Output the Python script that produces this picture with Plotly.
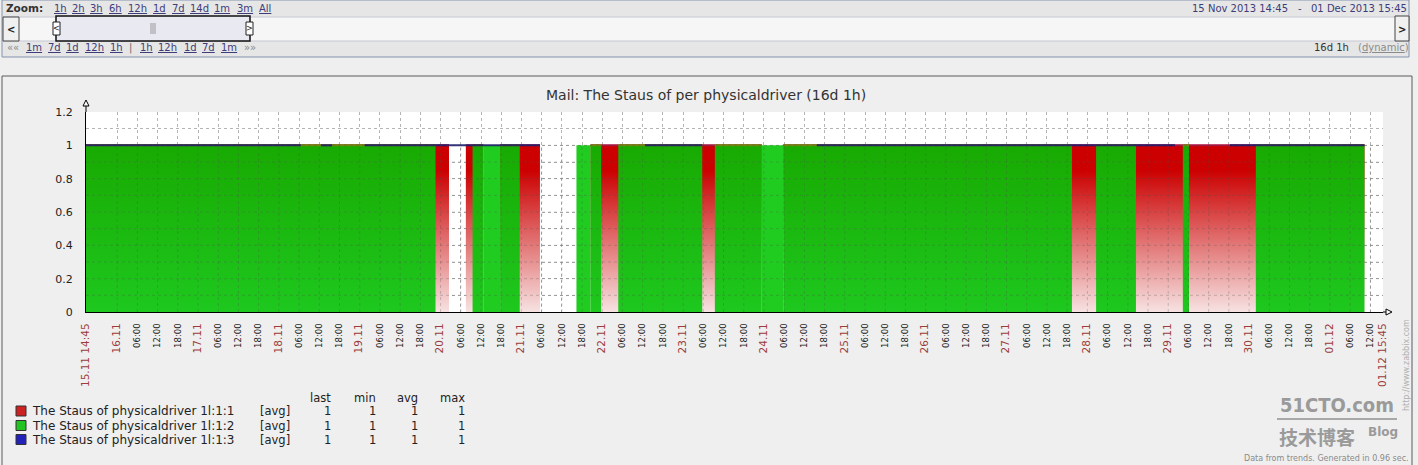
import plotly.graph_objects as go
import pandas as pd

# ---------------- data ----------------
T_START = "2013-11-15 14:45"
T_END = "2013-12-01 15:45"

series_names = ["The Staus of physicaldriver 1l:1:1",
                "The Staus of physicaldriver 1l:1:2",
                "The Staus of physicaldriver 1l:1:3"]
series_func = ["[avg]", "[avg]", "[avg]"]
stat_last = [1, 1, 1]
stat_min = [1, 1, 1]
stat_avg = [1, 1, 1]
stat_max = [1, 1, 1]

# periods during which each item reported a value (value = 1)
red_on = [("2013-11-15 14:45", "2013-11-20 02:30"),
          ("2013-11-20 07:30", "2013-11-20 12:40"),
          ("2013-11-20 17:40", "2013-11-21 05:30"),
          ("2013-11-21 20:30", "2013-11-23 23:20"),
          ("2013-11-24 05:45", "2013-12-01 10:15")]
red_val = [1, 1, 1, 1, 1]

green_on = [("2013-11-15 14:45", "2013-11-19 22:30"),
            ("2013-11-20 09:30", "2013-11-20 23:30"),
            ("2013-11-21 16:20", "2013-11-21 23:40"),
            ("2013-11-22 04:45", "2013-11-23 05:40"),
            ("2013-11-23 09:25", "2013-11-27 19:25"),
            ("2013-11-28 02:35", "2013-11-28 14:25"),
            ("2013-11-29 04:20", "2013-11-29 06:10"),
            ("2013-11-30 02:00", "2013-12-01 10:15")]
green_val = [1, 1, 1, 1, 1, 1, 1, 1]

blue_on = [("2013-11-15 14:45", "2013-11-18 06:30"),
           ("2013-11-18 12:30", "2013-11-18 15:45"),
           ("2013-11-19 01:30", "2013-11-21 05:30"),
           ("2013-11-22 12:40", "2013-11-23 05:40"),
           ("2013-11-24 15:40", "2013-11-29 02:00"),
           ("2013-11-29 18:20", "2013-12-01 10:15")]
blue_val = [1, 1, 1, 1, 1, 1]

y_ticks = [0, 0.1, 0.2, 0.3, 0.4, 0.5, 0.6, 0.7, 0.8, 0.9, 1.0, 1.1, 1.2]
y_labels = ["0", "", "0.2", "", "0.4", "", "0.6", "", "0.8", "", "1", "", "1.2"]

zoom_links = [("1h", 53), ("2h", 71), ("3h", 89), ("6h", 108), ("12h", 127), ("1d", 152),
              ("7d", 171), ("14d", 189), ("1m", 213), ("3m", 236), ("All", 258)]
nav_links = [("1m", 25), ("7d", 47), ("1d", 65), ("12h", 84), ("1h", 109),
             ("1h", 139), ("12h", 157), ("1d", 183), ("7d", 201), ("1m", 220)]

TITLE = "Mail: The Staus of per physicaldriver (16d 1h)"

# ---------------- geometry helpers ----------------
W, H = 1418, 465
PL, PR, PT, PB = 86, 1383, 112, 312
FONT = "DejaVu Sans"


def fx(x):
    return (x - PL) / (PR - PL)


def fy(y):
    return (PB - y) / (PB - PT)


def ts(s):
    return pd.Timestamp(s)


def intersect(a, b):
    out = []
    for s1, e1 in a:
        for s2, e2 in b:
            s, e = max(ts(s1), ts(s2)), min(ts(e1), ts(e2))
            if s < e:
                out.append((s, e))
    return out


def subtract(a, b):
    out = []
    for s1, e1 in a:
        pieces = [(ts(s1), ts(e1))]
        for s2, e2 in b:
            s2, e2 = ts(s2), ts(e2)
            nxt = []
            for s, e in pieces:
                if e2 <= s or s2 >= e:
                    nxt.append((s, e))
                else:
                    if s < s2:
                        nxt.append((s, s2))
                    if e2 < e:
                        nxt.append((e2, e))
            pieces = nxt
        out.extend(pieces)
    return out


def polys(intervals, vals=None):
    xs, ys = [], []
    for i, (s, e) in enumerate(intervals):
        v = 1 if vals is None else vals[i]
        xs += [s, s, e, e, s, None]
        ys += [0, v, v, 0, 0, None]
    return xs, ys


def tops(intervals, vals=None):
    xs, ys = [], []
    for i, (s, e) in enumerate(intervals):
        v = 1 if vals is None else vals[i]
        xs += [s, e, None]
        ys += [v, v, None]
    return xs, ys


fig = go.Figure()

# red item (gradient)
x, y = polys(red_on, red_val)
fig.add_trace(go.Scatter(x=x, y=y, mode="lines", fill="toself", line=dict(width=0),
                         fillgradient=dict(type="vertical", start=0, stop=1,
                                           colorscale=[[0, "#f7e2e2"], [0.85, "#cc0000"], [1, "#cc0000"]]),
                         hoverinfo="skip", showlegend=False))
x, y = tops(red_on, red_val)
fig.add_trace(go.Scatter(x=x, y=y, mode="lines", line=dict(width=2, color="#b01040"),
                         hoverinfo="skip", showlegend=False))

# green item: over red -> darker gradient, alone -> bright
green_dark = intersect(green_on, red_on)
green_bright = subtract(green_on, red_on)
x, y = polys(green_dark)
fig.add_trace(go.Scatter(x=x, y=y, mode="lines", fill="toself", line=dict(width=0),
                         fillgradient=dict(type="vertical", start=0, stop=1,
                                           colorscale=[[0, "#1ec81e"], [1, "#18aa02"]]),
                         hoverinfo="skip", showlegend=False))
x, y = polys(green_bright)
fig.add_trace(go.Scatter(x=x, y=y, mode="lines", fill="toself", line=dict(width=0),
                         fillcolor="#20cc20", hoverinfo="skip", showlegend=False))
x, y = tops(green_dark)
fig.add_trace(go.Scatter(x=x, y=y, mode="lines", line=dict(width=2, color="#6f8a08"),
                         hoverinfo="skip", showlegend=False))

# blue item (line)
x, y = tops(blue_on, blue_val)
fig.add_trace(go.Scatter(x=x, y=y, mode="lines", line=dict(width=2, color="rgba(24,24,110,0.88)"),
                         hoverinfo="skip", showlegend=False))

# ---------------- x ticks ----------------
DAYC = "#9c3c3c"
tick_times = pd.date_range("2013-11-16 00:00", "2013-12-01 12:00", freq="6h")
tickvals = [ts(T_START)] + list(tick_times) + [ts(T_END)]
ticktext = []
for i, t in enumerate(tickvals):
    if i == 0 or i == len(tickvals) - 1:
        ticktext.append(f'<span style="color:{DAYC};font-size:10.5px">{t:%d.%m %H:%M}</span>')
    elif t.hour == 0:
        ticktext.append(f'<span style="color:{DAYC};font-size:10.5px">{t:%d.%m}</span>')
    else:
        ticktext.append(f"{t:%H:%M}")

GRID = "#b4b4b4"
fig.update_xaxes(type="date", range=[T_START, T_END], tickmode="array", tickvals=tickvals,
                 ticktext=ticktext, tickangle=-90, tickfont=dict(family=FONT, size=8.5, color="#222"),
                 showgrid=True, gridcolor=GRID, griddash="3px,3px", gridwidth=1,
                 showline=True, linecolor="#000", linewidth=1, ticks="", zeroline=False,
                 ticklabelstandoff=7, fixedrange=True)
fig.update_yaxes(range=[0, 1.2], tickmode="array", tickvals=y_ticks, ticktext=y_labels,
                 tickfont=dict(family=FONT, size=11, color="#222"),
                 showgrid=True, gridcolor=GRID, griddash="3px,3px", gridwidth=1,
                 showline=True, linecolor="#000", linewidth=1, ticks="", zeroline=False,
                 ticklabelstandoff=10, fixedrange=True)

# ---------------- decorations ----------------
shapes = []
annotations = []

# faint grid drawn over the filled areas (as in the original renderer)
OVERGRID = "rgba(80,80,80,0.28)"
for t in tick_times:
    shapes.append(dict(type="line", xref="x", yref="y", x0=t, x1=t, y0=0, y1=1,
                       line=dict(color=OVERGRID, width=1, dash="3px,3px"), layer="above"))
for v in y_ticks[1:11]:
    shapes.append(dict(type="line", xref="paper", yref="y", x0=0, x1=1, y0=v, y1=v,
                       line=dict(color=OVERGRID, width=1, dash="3px,3px"), layer="above"))


def rect(x0, y0, x1, y1, fill=None, line="#000", width=1, layer="above"):
    shapes.append(dict(type="rect", xref="paper", yref="paper", x0=fx(x0), x1=fx(x1),
                       y0=fy(y0), y1=fy(y1), fillcolor=fill if fill else "rgba(0,0,0,0)",
                       line=dict(color=line, width=width), layer=layer))


def seg(x0, y0, x1, y1, color="#000", width=1, dash=None):
    d = dict(color=color, width=width)
    if dash:
        d["dash"] = dash
    shapes.append(dict(type="line", xref="paper", yref="paper", x0=fx(x0), x1=fx(x1),
                       y0=fy(y0), y1=fy(y1), line=d, layer="above"))


def path(pts, fill="#fff", line="#000", width=1):
    p = "M " + " L ".join(f"{fx(a)},{fy(b)}" for a, b in pts) + " Z"
    shapes.append(dict(type="path", xref="paper", yref="paper", path=p, fillcolor=fill,
                       line=dict(color=line, width=width), layer="above"))


def text(t, x, y, size=10, color="#222", xanchor="left", family=FONT, angle=0):
    annotations.append(dict(text=t, x=fx(x), y=fy(y), xref="paper", yref="paper", showarrow=False,
                            xanchor=xanchor, yanchor="middle", textangle=angle, borderpad=0,
                            font=dict(size=size, color=color, family=family)))


# graph frame
rect(2, 76, 1412, 480, fill=None, line="#5a5a5a", width=1, layer="below")

# top navigation panel
rect(2, 0, 1409, 57, fill="#e6e6e6", line="#8593ad", width=1, layer="below")
rect(3, 17, 1408, 41, fill="#f6f6f6", line="#c4c8d4", width=1, layer="below")
text("<b>Zoom:</b>", 5, 8, size=10.5, color="#333")
LINKC = "#3d3d7a"
for lab, xpos in zoom_links:
    text(f"<u>{lab}</u>", xpos, 8, size=10, color=LINKC)
text("15 Nov 2013 14:45", 1289, 8, size=10, color=LINKC, xanchor="right")
text("-", 1300, 8, size=10, color=LINKC, xanchor="center")
text("01 Dec 2013 15:45", 1408, 8, size=10, color=LINKC, xanchor="right")
# scroll buttons and slider
rect(3, 17, 19, 41, fill="#f0f0f0", line="#444", width=1)
text("<b>&lt;</b>", 11, 29, size=10, color="#222", xanchor="center")
rect(1395, 16, 1409, 41, fill="#f0f0f0", line="#444", width=1)
text("<b>&gt;</b>", 1402, 29, size=10, color="#222", xanchor="center")
rect(56, 16, 250, 41, fill="#e9e9f1", line="#111", width=1.5)
rect(53, 22, 60, 35, fill="#ffffff", line="#222", width=1)
text("&lt;", 56.5, 28.5, size=8, color="#222", xanchor="center")
rect(246, 22, 253, 35, fill="#ffffff", line="#222", width=1)
text("&gt;", 249.5, 28.5, size=8, color="#222", xanchor="center")
for gx in (151, 153, 155):
    seg(gx, 23, gx, 34, color="#999", width=1)
# bottom nav row
text("««", 6, 48, size=10, color="#8a8a8a")
text("|", 130, 48, size=10, color="#666", xanchor="center")
text("»»", 243, 48, size=10, color="#8a8a8a")
for lab, xpos in nav_links:
    text(f"<u>{lab}</u>", xpos, 48, size=10, color=LINKC)
text("16d 1h", 1313, 48, size=10, color="#333")
text("(<u>dynamic</u>)", 1357, 48, size=10, color="#8a8a8a")

# title
text(TITLE, 706, 95, size=14, color="#333", xanchor="center")

# axis extensions / arrows
seg(PL, 106, PL, PT, color="#000", width=1)
path([(PL, 100), (PL - 3, 106), (PL + 3, 106)], fill="#fff", line="#000")
seg(PR, PB, 1386, PB, color="#000", width=1)
path([(1392, PB), (1386, PB - 3), (1386, PB + 3)], fill="#fff", line="#000")

# legend
leg_colors = ["#cc2222", "#22c322", "#2222bb"]
rows_y = [411, 425.5, 439.5]
LS = 11.5
text("last", 332, 397.5, size=LS, color="#222", xanchor="right")
text("min", 377, 397.5, size=LS, color="#222", xanchor="right")
text("avg", 419, 397.5, size=LS, color="#222", xanchor="right")
text("max", 466, 397.5, size=LS, color="#222", xanchor="right")
for i in range(3):
    yc = rows_y[i]
    rect(16, yc - 5, 26, yc + 5, fill=leg_colors[i], line="#333", width=1)
    text(series_names[i], 31, yc, size=12, color="#222")
    text(series_func[i], 259, yc, size=LS, color="#222")
    text(str(stat_last[i]), 332, yc, size=LS, color="#222", xanchor="right")
    text(str(stat_min[i]), 377, yc, size=LS, color="#222", xanchor="right")
    text(str(stat_avg[i]), 419, yc, size=LS, color="#222", xanchor="right")
    text(str(stat_max[i]), 466, yc, size=LS, color="#222", xanchor="right")

# watermark / footer
text("<b>51CTO.com</b>", 1337, 405, size=20, color="#9a9a9a", xanchor="center",
     family="DejaVu Sans Condensed, DejaVu Sans")
seg(1277, 419, 1397, 419, color="#a8a8a8", width=2)
text("<b>技术博客</b>", 1317, 436, size=19, color="#9a9a9a", xanchor="center", family="Noto Sans CJK SC")
text("<b>Blog</b>", 1383, 432, size=12, color="#9a9a9a", xanchor="center")
text("Data from trends. Generated in 0.96 sec.", 1410, 458, size=8, color="#8a8a8a", xanchor="right")
text("http://www.zabbix.com", 1406, 365, size=8, color="#b0b0b0", xanchor="center", angle=-90)

fig.update_layout(width=W, height=H, margin=dict(l=PL, r=W - PR, t=PT, b=H - PB, pad=0),
                  paper_bgcolor="#efefef", plot_bgcolor="#ffffff", showlegend=False,
                  shapes=shapes, annotations=annotations, font=dict(family=FONT))

fig.write_html("out.html", config={"displayModeBar": False},
               post_script="document.body.style.margin='0';document.body.style.overflow='hidden';")
